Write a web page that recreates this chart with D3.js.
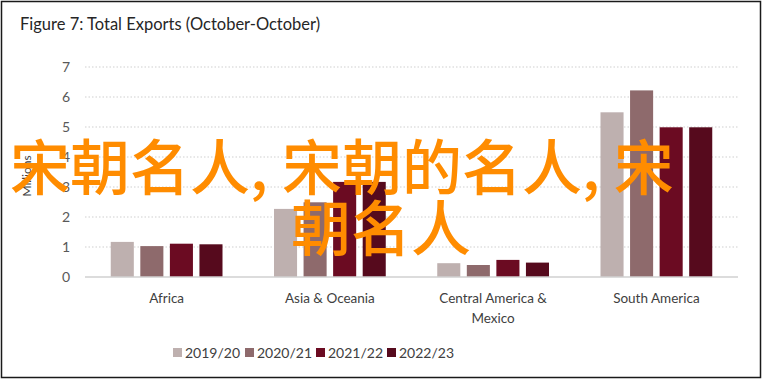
<!DOCTYPE html>
<meta charset="utf-8">
<style>
  body { margin: 0; background: #fff; }
  text { font-family: Lato, "Open Sans", sans-serif; }
  .grid line { stroke: #cfcfcf; stroke-dasharray: 1.5,2; }
  .tick text { fill: #595959; font-size: 14px; font-family: Lato, sans-serif; }
  .cat { fill: #404040; font-size: 13.5px; }
  .leg { fill: #404040; font-size: 14px; }
</style>
<svg width="766" height="383"></svg>
<script src="https://cdnjs.cloudflare.com/ajax/libs/d3/7.8.5/d3.min.js"></script>
<script>

var regions = ["Africa", "Asia & Oceania", "Central America & Mexico", "South America"],
    regionLines = [["Africa"], ["Asia & Oceania"], ["Central America &", "Mexico"], ["South America"]],
    years = ["2019/20", "2020/21", "2021/22", "2022/23"],
    colors = ["#beb0af", "#8e6a6c", "#6b0b22", "#560a1d"],
    yTicks = [0, 1, 2, 3, 4, 5, 6, 7];

var v2019 = [1.17, 2.27, 0.46, 5.49],
    v2020 = [1.03, 2.49, 0.40, 6.22],
    v2021 = [1.11, 3.17, 0.57, 4.99],
    v2022 = [1.09, 3.17, 0.48, 4.99];

var values = [v2019, v2020, v2021, v2022];

var overlayLines = [["宋朝名人,", "宋朝的名人,", "宋"], ["朝名人"]];

var svg = d3.select("svg");

// frame
svg.append("rect")
    .attr("x", 1.5).attr("y", 1.5)
    .attr("width", 759).attr("height", 376)
    .attr("fill", "#fff").attr("stroke", "#1a1a1a").attr("stroke-width", 1.5);

svg.append("text")
    .attr("x", 20).attr("y", 30)
    .attr("fill", "#262626")
    .style("font-size", "16.5px")
    .text("Figure 7: Total Exports (October-October)");

var pLeft = 85, pRight = 738, pTop = 67, pBottom = 277;

var y = d3.scaleLinear().domain([0, 7]).range([pBottom, pTop]);
var x0 = d3.scaleBand().domain(regions).range([pLeft, pRight]).padding(0);
var x1 = d3.scaleBand().domain(years)
    .range([22.5, x0.bandwidth() - 22.5])
    .paddingInner(0.22).paddingOuter(0.11);

// gridlines
svg.append("g")
    .attr("class", "grid")
    .selectAll("line")
    .data(yTicks.slice(1))
  .enter().append("line")
    .attr("x1", pLeft).attr("x2", pRight)
    .attr("y1", function(d) { return y(d); })
    .attr("y2", function(d) { return y(d); });

// y axis labels
var yAxis = svg.append("g")
    .attr("transform", "translate(" + (pLeft - 15) + ",0)")
    .call(d3.axisLeft(y).tickValues(yTicks).tickFormat(d3.format("d"))
      .tickSize(0).tickPadding(0));
yAxis.select(".domain").remove();

svg.append("text")
    .attr("transform", "translate(31,176) rotate(-90)")
    .attr("text-anchor", "middle")
    .attr("fill", "#404040")
    .style("font-size", "12px")
    .text("Millions");

// bars
years.forEach(function(yr, s) {
  svg.append("g")
      .attr("fill", colors[s])
      .selectAll("rect")
      .data(values[s])
    .enter().append("rect")
      .attr("x", function(d, i) { return x0(regions[i]) + x1(yr); })
      .attr("y", function(d) { return y(d); })
      .attr("width", x1.bandwidth())
      .attr("height", function(d) { return y(0) - y(d); });
});

// baseline
svg.append("line")
    .attr("x1", pLeft).attr("x2", pRight)
    .attr("y1", y(0)).attr("y2", y(0))
    .attr("stroke", "#d0d0d0").attr("stroke-width", 1.5);

// category labels
regions.forEach(function(r, i) {
  var cx = x0(r) + x0.bandwidth() / 2;
  var t = svg.append("text")
      .attr("class", "cat")
      .attr("text-anchor", "middle")
      .attr("y", 303);
  regionLines[i].forEach(function(l, j) {
    t.append("tspan")
        .attr("x", cx)
        .attr("dy", j ? 20 : 0)
        .text(l);
  });
});

// legend
var legX = [173, 245, 316, 387];
years.forEach(function(yr, s) {
  svg.append("rect")
      .attr("x", legX[s]).attr("y", 348)
      .attr("width", 9).attr("height", 9)
      .attr("fill", colors[s]);
  svg.append("text")
      .attr("class", "leg")
      .attr("x", legX[s] + 12).attr("y", 357.5)
      .text(yr);
});

// overlay text (wide comma spacing as in the picture)
overlayLines.forEach(function(parts, i) {
  var t = svg.append("text")
      .attr("x", i ? 291 : 10)
      .attr("y", 190 + i * 61)
      .attr("fill", "#ff8c00")
      .style("font-family", "'Noto Sans CJK SC', sans-serif")
      .style("font-weight", 500)
      .style("font-size", "60px");
  parts.forEach(function(p, j) {
    t.append("tspan").attr("dx", j ? 14 : 0).text(p);
  });
});

</script>
